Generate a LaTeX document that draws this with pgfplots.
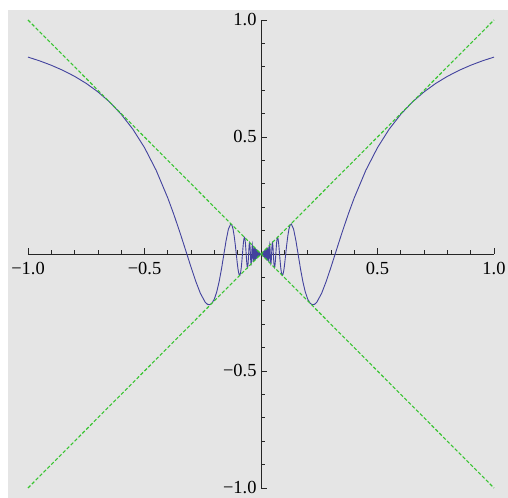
\documentclass[border=0pt]{standalone}
\usepackage{fontspec}
\setmainfont{Liberation Serif}
\usepackage{pgfplots}
\pgfplotsset{compat=1.18}
\usepackage{pgfplotstable}

% y = x sin(1/x) on 0 < x <= 1 (the function is even, so the left half reuses it)
\pgfplotstableread{
x y
1.0 0.8415
0.95 0.8253
0.9 0.8066
0.85 0.7848
0.8 0.7592
0.75 0.7290
0.7 0.6929
0.65 0.6497
0.6 0.5972
0.55 0.5333
0.5 0.4546
0.45 0.3578
0.4 0.2394
0.375 0.1715
0.35 0.0982
0.33 0.0366
0.31831 0
0.3 -0.0572
0.28 -0.1167
0.26 -0.1684
0.24 -0.2051
0.23 -0.2149
0.22 -0.2169
0.21 -0.2097
0.2 -0.1918
0.19 -0.1619
0.18 -0.1197
0.17 -0.0663
0.16 -0.0053
0.159155 0
0.15 0.0561
0.14 0.1061
0.13 0.1283
0.125 0.1237
0.12 0.1065
0.115 0.0766
0.11 0.0360
0.106103 0
0.101859 -0.03898
0.1 -0.0544
0.097942 -0.06926
0.094314 -0.08713
0.090946 -0.09095
0.087810 -0.08113
0.084883 -0.06002
0.082145 -0.03144
0.079577 0
0.077166 0.02953
0.074896 0.05296
0.072757 0.06722
0.070735 0.07074
0.068824 0.06358
0.067013 0.04739
0.065294 0.02499
0.063662 0
0.062109 -0.02377
0.060631 -0.04287
0.059221 -0.05471
0.057875 -0.05788
0.056588 -0.05228
0.055358 -0.03914
0.054180 -0.02073
0.053052 0
0.051969 0.01989
0.050930 0.03601
0.049931 0.04613
0.048971 0.04897
0.048047 0.04439
0.047157 0.03335
0.046300 0.01772
0.045473 0
0.044675 -0.01710
0.043905 -0.03105
0.043161 -0.03988
0.042441 -0.04244
0.041746 -0.03857
0.041072 -0.02904
0.040420 -0.01547
0.039789 0
0.038583 0.02728
0.037448 0.03745
0.036378 0.02572
0.035368 0
0.034412 -0.02433
0.033506 -0.03351
0.032647 -0.02309
0.031831 0
0.031055 0.02196
0.030315 0.03032
0.029610 0.02094
0.028937 0
0.028294 -0.02001
0.027679 -0.02768
0.027090 -0.01916
0.026526 0
0.025985 0.01837
0.025465 0.02546
0.024966 0.01765
0.024485 0
0.024023 -0.01699
0.023579 -0.02358
0.023150 -0.01637
0.022736 0
0.022338 0.01580
0.021952 0.02195
0.021580 0.01526
0.021221 0
0.020873 -0.01476
0.020536 -0.02054
0.020210 -0.01429
0.019894 0
0.019292 0.019292
0.018724 0
0.018189 -0.018189
0.017684 0
0.017206 0.017206
0.016753 0
0.016324 -0.016324
0.015915 0
0.015527 0.015527
0.015158 0
0.014805 -0.014805
0.014469 0
0.014147 0.014147
0.013840 0
0.013545 -0.013545
0.013263 0
0.012992 0.012992
0.012732 0
0.012483 -0.012483
0.012243 0
0.012012 0.012012
0.011789 0
0.011575 -0.011575
0.011368 0
0.011169 0.011169
0.010976 0
0.010790 -0.010790
0.010610 0
0.010436 0.010436
0.010268 0
0.010105 -0.010105
0.009947 0
0.009794 0.009794
0.009502 -0.009502
0.009226 0.009226
0.008966 -0.008966
0.008721 0.008721
0.008488 -0.008488
0.008268 0.008268
0.008058 -0.008058
0.007860 0.007860
0.007670 -0.007670
0.007490 0.007490
0.007317 -0.007317
0.007153 0.007153
0.006996 -0.006996
0.006845 0.006845
0.006701 -0.006701
0.006563 0.006563
0.006431 -0.006431
0.006303 0.006303
0.006181 -0.006181
0.006063 0.006063
0.005950 -0.005950
0.005841 0.005841
0.005735 -0.005735
0.005634 0.005634
0.005536 -0.005536
0.005441 0.005441
0.005350 -0.005350
0.005261 0.005261
0.005176 -0.005176
0.005093 0.005093
0.005013 -0.005013
0 0
}\posbranch

\definecolor{bg}{RGB}{229,229,229}
\definecolor{curve}{rgb}{0.26,0.26,0.62}
\definecolor{diag}{RGB}{56,196,48}

\begin{document}
\begin{tikzpicture}
\path[use as bounding box, fill=white] (0,0) rectangle (508bp,498bp);
\fill[bg] (8bp,0) rectangle (508bp,488bp);
\begin{axis}[
  at={(28bp,10bp)}, anchor=south west,
  scale only axis, width=466bp, height=468bp,
  xmin=-1, xmax=1, ymin=-1, ymax=1,
  axis lines=middle,
  axis line style={-, line width=0.8bp, black!85},
  xtick={-1,-0.5,0.5,1},
  xticklabels={\mbox{−1.0},\mbox{−0.5},\mbox{0.5},\mbox{1.0}},
  ytick={-1,-0.5,0.5,1},
  yticklabels={\mbox{−1.0},\mbox{−0.5},\mbox{0.5},\mbox{1.0}},
  minor xtick={-0.9,-0.8,-0.7,-0.6,-0.4,-0.3,-0.2,-0.1,0.1,0.2,0.3,0.4,0.6,0.7,0.8,0.9},
  minor ytick={-0.9,-0.8,-0.7,-0.6,-0.4,-0.3,-0.2,-0.1,0.1,0.2,0.3,0.4,0.6,0.7,0.8,0.9},
  tick align=inside,
  major tick length=6bp, minor tick length=3.5bp,
  tick style={line width=0.8bp, black!85},
  tick label style={font=\fontsize{18.5}{18.5}\selectfont},
  xticklabel style={yshift=-5bp},
  yticklabel style={xshift=-1bp},
  clip=false,
]
\addplot[curve, line width=0.9bp] table[x=x, y=y] {\posbranch};
\addplot[curve, line width=0.9bp] table[x expr=-\thisrow{x}, y=y] {\posbranch};
\addplot[diag, line width=1.1bp, dash pattern=on 3.5bp off 2bp] coordinates {(-1,-1) (1,1)};
\addplot[diag, line width=1.1bp, dash pattern=on 3.5bp off 2bp] coordinates {(-1,1) (1,-1)};
\end{axis}
\end{tikzpicture}
\end{document}
